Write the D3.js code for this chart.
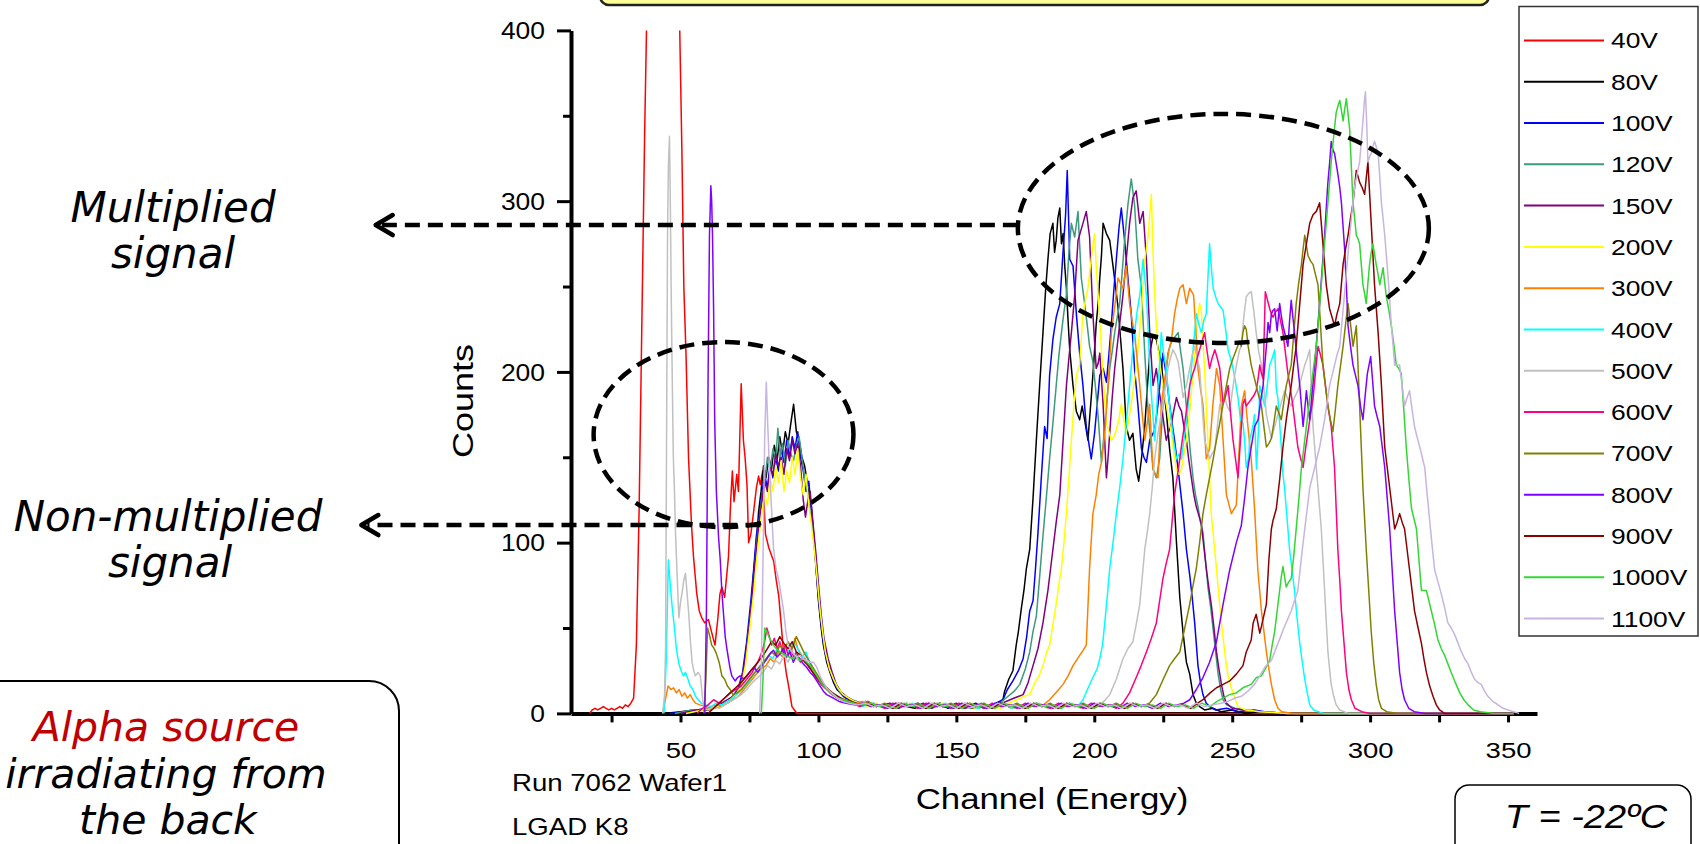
<!DOCTYPE html>
<html><head><meta charset="utf-8">
<script src="https://cdn.jsdelivr.net/npm/d3@7"></script>
<style>body{margin:0;background:#fff;overflow:hidden}svg{display:block}</style>
</head><body>
<svg id="c" width="1700" height="844"></svg>
<script>
// ---------------- DATA (channel, counts) ----------------
const s40V = [[17,0],[18,2],[19,3],[20,2],[21,3],[22,4],[23,3],[24,2],[25,3],[26,2],[27,3],[28,4],[29,3],[30,5],[31,4],[32,6],[33,9],[34,40],[35,120],[36,230],[37,340],[38,430],[40,480],[44,500],[48,470],[49.5,420],[50.5,330],[51.2,250],[52,210],[52.9,150],[54,110],[54.7,92],[55.9,70],[56.8,60],[57.7,56],[58.8,53],[60.1,55],[61.2,48],[62.5,40],[63.5,55],[64.3,70],[65,74],[66,68],[67.4,92],[68.2,125],[68.8,142],[69.4,124],[70.4,140],[71,130],[72,193],[72.8,160],[73.4,150],[74.1,134],[74.7,100],[75.5,105],[76.5,118],[77.5,132],[78.3,139],[78.9,134],[79.8,142],[80.8,105],[82,97],[83.8,89],[84.7,78],[85.6,69],[86.5,52],[87.4,35],[88.3,24],[89.2,16],[90.4,4],[91.3,2],[92.2,0],[150,0],[250,0],[352,0]];
const s80V = [[44,0],[50,1],[55,2],[60,2],[64,4],[67,6],[69,9],[71,14],[72.5,20],[74,40],[75.5,60],[76.5,82],[77.5,100],[78.3,118],[79.2,130],[80.1,145],[81,138],[82,150],[83,143],[84,157],[85,148],[86,162],[87,152],[88,165],[89,158],[90,170],[91,181],[92,165],[93,160],[94,150],[95,145],[95.6,139],[96.5,128],[97.3,124],[98.2,105],[99,88],[100,66],[101,50],[101.8,40],[103,30],[104.2,24],[105.5,18],[106.7,14],[108,12],[110,9],[112,8],[114,6],[116,5],[118,7],[120,4],[123,5],[126,3],[129,6],[132,4],[135,3],[138,5],[141,4],[144,6],[147,3],[150,5],[153,4],[156,3],[159,5],[162,4],[165,6],[166.9,8],[167.5,13],[169,20],[170.5,25],[171.7,40],[172.5,48],[173.6,62],[174.5,72],[175.4,85],[176.6,96],[177.8,126],[179,160],[180.2,192],[181.4,223],[182.4,249],[183.2,266],[184,281],[185,287],[185.6,270],[186.2,277],[186.8,290],[187.5,296],[188.1,275],[188.7,281],[189.3,262],[189.9,249],[190.5,230],[191.1,213],[192.3,192],[193.5,177],[194.7,172],[195.6,180],[196.5,172],[197.7,160],[198.9,185],[199.8,205],[200.7,228],[201.4,240],[202,255],[202.6,268],[203.2,287],[204.4,281],[205.6,277],[206.8,262],[207.7,250],[208.6,238],[209.5,220],[210.4,202],[211.6,168],[212.8,160],[214,164],[215.2,143],[216.1,136],[217.1,149],[218.3,168],[219.2,190],[220.1,211],[221.3,221],[222.5,219],[223.4,212],[224.3,206],[225.2,190],[226.1,177],[227.3,155],[228.5,138],[229.8,100],[231,68],[232.2,47],[233.4,30],[234.6,23],[235.8,11],[237,6],[238.2,4],[240,2],[243,3],[246,1],[250,2],[255,0],[260,1],[270,0],[352,0]];
const s100V = [[46,0],[52,1],[56,2],[60,3],[64,5],[67,7],[69,10],[71,15],[72.5,24],[74,42],[75.5,66],[76.5,84],[77.5,104],[78.5,115],[79.5,128],[80.5,140],[81.5,132],[82.5,146],[83.5,138],[84.5,150],[85.5,142],[86.5,155],[87.5,147],[88.5,160],[89.5,150],[90.5,162],[91.5,155],[92.5,165],[93.5,150],[94.5,142],[95.5,130],[96.5,136],[97.5,118],[98.5,100],[99.5,78],[100.5,60],[101.5,45],[102.5,35],[104,26],[105.5,19],[107,14],[109,10],[111,8],[113,7],[115,5],[118,6],[121,4],[124,5],[127,3],[130,5],[133,4],[136,6],[139,3],[142,5],[145,4],[148,3],[151,5],[154,4],[157,6],[160,3],[163,5],[166.9,8],[168.5,14],[170.5,19],[172.5,25],[174.2,32],[175.5,45],[176.6,60],[177.8,66],[178.7,85],[179.6,106],[180.8,138],[182,168],[182.9,161],[183.8,198],[185,219],[186.2,232],[187.5,240],[188.5,266],[189.6,292],[190.2,318],[191.1,266],[192.3,262],[193.5,234],[194.7,211],[195.9,192],[197.1,168],[198.9,149],[200.1,164],[201,180],[202,198],[203.2,202],[204.4,194],[205.3,210],[206.2,228],[207.1,248],[208,266],[209,285],[209.8,296],[211,277],[212.2,255],[213.4,234],[214.6,202],[215.8,181],[217.1,155],[218,150],[218.9,147],[220.1,160],[221.9,166],[223.1,181],[224,196],[224.9,211],[226.1,198],[227.3,181],[228.2,170],[229.1,160],[230.4,143],[231.3,130],[232.2,117],[233.4,96],[234.6,81],[235.5,68],[236.4,53],[237.6,28],[238.5,18],[239.4,11],[240.6,6],[241.8,4],[244,2],[248,3],[252,1],[258,2],[265,0],[352,0]];
const s120V = [[48,0],[54,2],[58,2],[62,4],[65,6],[68,8],[70,12],[72,18],[73.5,30],[75,52],[76.5,75],[77.5,98],[78.5,112],[79.5,126],[80.5,135],[81.5,150],[82.5,142],[83.5,155],[84.5,148],[85.3,167],[86.2,150],[87,158],[88,145],[89,160],[90,152],[91,148],[92,157],[93,162],[94,150],[95,138],[96,130],[97,118],[98,110],[99,92],[100,72],[101,55],[102,42],[103.5,30],[105,22],[106.5,16],[108,12],[110,10],[112,8],[114,7],[117,5],[120,6],[123,4],[126,5],[129,3],[132,6],[135,4],[138,5],[141,3],[144,6],[147,4],[150,5],[153,3],[156,4],[159,6],[162,4],[165,5],[168,9],[171,13],[173,17],[175,26],[176.6,36],[177.8,48],[179,57],[180.2,80],[181.4,104],[182.6,126],[183.8,149],[185,170],[186.2,192],[187.2,210],[188.1,223],[189,235],[189.9,245],[190.8,270],[191.7,287],[192.9,279],[194.1,294],[195.3,255],[196.5,240],[197.4,228],[198.3,215],[199.5,206],[200.5,190],[201.4,174],[202.6,147],[203.8,168],[204.7,185],[205.6,202],[206.5,212],[207.4,223],[208.3,232],[209.2,240],[210.1,258],[211,277],[212.2,298],[213.4,313],[214.6,298],[215.8,266],[217.1,249],[218.3,211],[219.5,177],[220.4,160],[221.3,143],[222.5,138],[223.7,149],[224.9,181],[225.8,196],[226.7,211],[227.6,216],[228.5,219],[229.5,221],[230.4,223],[231.3,212],[232.2,202],[233.1,185],[234,168],[234.9,152],[235.8,138],[236.7,128],[237.6,121],[238.5,112],[239.4,106],[240.3,90],[241.2,74],[242.2,62],[243.1,49],[244,36],[244.9,23],[245.8,14],[246.7,8],[248,5],[251,3],[255,2],[260,1],[270,0],[352,0]];
const s150V = [[50,0],[56,2],[60,3],[63,4],[66,7],[69,10],[71,14],[72.5,22],[74,38],[75.5,60],[76.5,80],[77.5,96],[78.5,112],[79.5,124],[80.5,136],[81.5,130],[82.5,144],[83.5,140],[84.5,152],[85.5,145],[86.5,150],[87.5,140],[88.5,155],[89.5,148],[90.5,160],[91.5,152],[92.5,158],[93.5,145],[94.5,125],[95.3,115],[96.2,125],[97,130],[98,112],[99,95],[100,76],[101,58],[102,44],[103.5,32],[105,24],[106.5,17],[108,13],[110,10],[112,8],[114,6],[117,7],[120,4],[123,5],[126,6],[129,3],[132,5],[135,4],[138,6],[141,3],[144,5],[147,4],[150,6],[153,3],[156,5],[159,4],[162,3],[165,5],[168,7],[171,9],[174.2,11],[176,18],[177.8,28],[179.6,38],[181.4,53],[183.2,72],[185,96],[186.2,112],[187.5,128],[188.7,160],[189.9,192],[190.8,208],[191.7,223],[192.9,245],[194.1,277],[195,282],[195.9,287],[197.1,294],[198.3,279],[199.5,234],[200.7,202],[201.4,205],[202,211],[203.2,181],[204.4,138],[205,150],[205.6,164],[206.5,185],[207.4,202],[208.3,215],[209.2,228],[210.4,245],[211.6,266],[212.8,287],[214,302],[215.2,306],[216.5,287],[217.7,294],[218.9,266],[220.1,223],[221.3,192],[222.5,202],[223.4,190],[224.3,181],[225.2,170],[226.1,160],[227,165],[228,170],[228.9,178],[229.8,185],[230.7,180],[231.6,177],[232.5,168],[233.4,160],[234.3,148],[235.2,138],[236.1,128],[237,121],[238.8,111],[239.7,98],[240.6,85],[241.5,74],[242.4,64],[243.4,50],[244.3,36],[245.2,26],[246.1,17],[247,10],[247.9,6],[250,3],[254,2],[260,1],[270,0],[352,0]];
const s200V = [[52,0],[58,2],[62,3],[65,5],[68,8],[70,11],[72,16],[73.5,28],[75,48],[76.5,70],[77.5,88],[78.5,104],[79.5,118],[80.5,128],[81.5,122],[82.5,138],[83.5,130],[84.5,145],[85.5,135],[86.5,148],[87.5,130],[88.5,142],[89.5,135],[90.5,150],[91.5,140],[92.5,155],[93.5,138],[94.5,128],[95.5,140],[96.5,122],[97.5,110],[98.5,96],[99.5,80],[100.5,62],[101.5,48],[102.5,36],[104,26],[105.5,20],[107,15],[109,11],[111,9],[113,7],[115,6],[118,4],[121,6],[124,3],[127,5],[130,4],[133,6],[136,3],[139,5],[142,4],[145,6],[148,3],[151,5],[154,4],[157,3],[160,5],[163,4],[166,3],[169,6],[172,8],[174.5,10],[176.6,11],[178.5,18],[180,22],[181.4,28],[182.6,35],[183.8,40],[185,52],[186.2,64],[187.2,76],[188.1,85],[189,100],[189.9,117],[190.8,138],[191.7,160],[192.6,180],[193.5,198],[194.7,204],[195.3,220],[195.9,234],[196.8,242],[197.7,249],[198.3,258],[198.9,266],[199.5,274],[200.1,281],[200.7,262],[201.4,245],[202,230],[202.6,213],[203.5,190],[204.4,170],[205.3,165],[206.2,160],[207.1,162],[208,166],[208.9,172],[209.8,181],[210.7,172],[211.6,164],[212.5,172],[213.4,181],[214.3,192],[215.2,202],[216.1,218],[217.1,236],[217.7,250],[218.3,266],[218.9,272],[219.5,279],[220.1,292],[220.7,304],[221.3,270],[221.9,245],[222.5,228],[223.1,213],[224,202],[224.9,192],[226.1,181],[227,172],[228,164],[228.9,152],[229.8,143],[230.7,140],[231.6,143],[232.5,152],[233.4,160],[234.6,177],[235.3,190],[236,202],[236.8,218],[237.6,234],[238.2,240],[238.8,236],[239.4,218],[240,202],[240.6,180],[241.2,160],[241.8,138],[242.4,117],[243.4,100],[244.3,85],[245.2,68],[246.1,53],[247,40],[247.9,28],[248.8,20],[249.7,15],[250.9,9],[252.1,4],[255,2],[260,1],[270,0],[352,0]];
const s300V = [[43.5,0],[44.5,8],[45.5,16],[46.5,14],[47.5,15],[48.5,12],[49.5,14],[50.5,10],[51.5,12],[52.5,9],[53.5,11],[54.5,8],[55.5,6],[57,5],[59,4],[61,3],[63,5],[65,4],[67,6],[69,8],[71,10],[73,14],[75,18],[77,22],[79,26],[81,28],[82.5,32],[84,30],[85.5,36],[87,33],[88.5,38],[90,35],[91.5,44],[92.5,38],[94,34],[95.5,30],[97,27],[98.5,24],[100,20],[102,16],[104,13],[106,11],[108,9],[110,8],[113,6],[116,7],[119,4],[122,5],[125,3],[128,6],[131,4],[134,5],[137,3],[140,6],[143,4],[146,5],[149,3],[152,4],[155,6],[158,3],[161,5],[164,4],[167,6],[170,3],[173,5],[176,4],[179,6],[181.5,5],[183.8,8],[186,12],[188.7,17],[190.5,22],[192.3,28],[194.7,34],[196,37],[197.1,40],[198.3,85],[199.5,117],[200.7,128],[201.6,140],[202.6,147],[203.8,164],[205,192],[206.2,223],[207.4,238],[208.6,255],[209.5,252],[210.4,249],[211.6,262],[212.8,240],[213.7,230],[214.6,223],[215.5,208],[216.5,192],[217.4,175],[218.3,160],[219.2,170],[220.1,181],[220.7,160],[221.3,143],[222.2,140],[223.1,138],[224.3,181],[225.2,192],[226.1,202],[227,212],[228,219],[229.1,234],[230,242],[231,249],[232.2,251],[233.4,240],[234.6,249],[236,245],[236.8,225],[237.6,202],[238.5,190],[239.4,181],[240,165],[240.6,149],[241.8,155],[242.4,168],[243,181],[243.7,192],[244.3,202],[245.5,192],[246.1,176],[246.7,160],[247.9,128],[249.7,117],[251.5,122],[253.3,180],[254.5,189],[255.7,168],[256.9,149],[258.1,120],[259.3,84],[260.6,60],[261.5,48],[262.4,36],[263.3,26],[264.2,17],[265.4,8],[266.6,3],[268,1],[272,0],[352,0]];
const s400V = [[44,0],[44.8,30],[45.6,90],[46.3,75],[47,62],[47.8,50],[48.5,38],[49.3,30],[50,26],[51,22],[51.8,24],[52.7,20],[53.5,16],[54.5,14],[55.4,10],[56.5,8],[57.5,6],[59,5],[61,4],[63,6],[65,5],[67,7],[69,9],[71,12],[73,15],[75,19],[77,24],[79,28],[80.5,30],[82,34],[83.5,32],[85,38],[86.5,35],[88,40],[89.5,36],[91,42],[92.5,38],[94,33],[95.5,36],[97,29],[98.5,25],[100,20],[102,17],[104,13],[106,11],[108,9],[110,7],[113,6],[116,4],[119,6],[122,5],[125,3],[128,5],[131,4],[134,6],[137,3],[140,5],[143,4],[146,6],[149,3],[152,5],[155,4],[158,3],[161,5],[164,4],[167,6],[170,3],[173,5],[176,4],[179,6],[182,4],[185,5],[188,3],[191,6],[194,4],[195.9,8],[197.5,14],[199.5,21],[201,26],[202,32],[203,40],[203.8,53],[204.8,70],[205.6,85],[206.8,100],[208,117],[209.2,132],[210.4,149],[211.6,170],[212.8,192],[213.7,208],[214.6,223],[215.5,235],[216.5,245],[217.1,255],[217.7,266],[218.3,255],[218.9,245],[219.5,225],[220.1,202],[221,180],[221.9,160],[222.5,175],[223.1,192],[223.7,205],[224.3,223],[225.2,210],[226.1,202],[227,185],[228,170],[228.9,158],[229.8,149],[230.7,152],[231.6,149],[232.5,160],[233.4,170],[234.3,185],[235.2,202],[236.1,218],[237,234],[237.9,228],[238.8,223],[239.7,230],[240.6,234],[241.2,255],[241.8,275],[242.4,262],[243.1,249],[244,244],[244.9,240],[245.8,238],[246.7,236],[247.6,225],[248.5,213],[249.4,208],[250.3,202],[251.2,194],[252.1,185],[253,172],[253.9,170],[254.5,160],[255.1,144],[256,150],[256.3,160],[257.5,168],[258.1,175],[258.8,143],[259.5,165],[260,192],[260.9,186],[261.8,180],[262.7,192],[263.6,204],[264.5,208],[265.4,213],[266,190],[266.6,184],[267.2,170],[267.8,156],[268.4,140],[269,132],[270.2,108],[270.8,96],[271.7,84],[272.6,72],[273.5,56],[274.5,41],[275.4,30],[276.3,20],[277.2,12],[278.1,5],[279.5,2],[283,0],[352,0]];
const s500V = [[43.5,0],[44.2,10],[44.6,40],[45,180],[45.3,280],[45.6,320],[46,338],[46.3,301],[46.6,250],[47,197],[47.4,150],[47.8,131],[48.2,105],[48.8,80],[49.4,56],[50,65],[50.6,71],[51.2,78],[51.8,82],[52.4,70],[53,58],[53.6,42],[54.2,30],[54.8,25],[55.4,22],[56.3,24],[57.2,22],[57.8,12],[58.4,3],[60,2],[62,4],[64,3],[66,5],[68,7],[70,9],[72,11],[74,14],[76,18],[78,21],[80,24],[81.5,28],[83,26],[84.5,31],[86,29],[87.5,34],[89,30],[90.5,36],[92,32],[93.5,30],[95,33],[96.5,28],[98,24],[99.5,20],[101,17],[103,14],[105,11],[107,9],[109,8],[111,6],[114,5],[117,7],[120,4],[123,5],[126,3],[129,6],[132,4],[135,5],[138,3],[141,6],[144,4],[147,5],[150,3],[153,6],[156,4],[159,5],[162,3],[165,4],[168,6],[171,3],[174,5],[177,4],[180,6],[183,3],[186,5],[189,4],[192,6],[195,3],[198,5],[201,4],[203.5,7],[205.6,11],[208,20],[210.4,32],[212.2,38],[214,42],[215.2,52],[216.5,64],[217.4,80],[218.3,96],[219.2,106],[220.1,117],[221,132],[221.9,149],[223.1,164],[224.9,181],[225.8,192],[226.7,202],[227.6,208],[228.5,213],[229.5,210],[230.4,206],[231.3,196],[232.2,185],[233.4,192],[234.6,202],[235.5,210],[236.4,215],[237.3,208],[238.2,202],[239.1,180],[240,160],[240.9,155],[241.8,149],[242.7,152],[243.7,155],[244.6,168],[245.5,181],[246.4,183],[247.3,185],[248.2,180],[249.1,177],[250,188],[250.9,198],[251.8,206],[252.7,213],[253.3,215],[254.2,232],[255.1,244],[256,246],[256.9,247],[257.8,236],[258.7,223],[259.6,212],[260.6,204],[261.5,190],[262.4,175],[263.3,168],[264.2,161],[265.4,168],[266.6,175],[267.8,182],[269,189],[270.2,184],[271.4,180],[272.6,185],[273.8,189],[275,196],[276.3,204],[277.2,208],[278.1,213],[278.7,190],[279.3,168],[279.9,156],[280.5,144],[281.4,126],[282.3,108],[282.9,90],[283.5,72],[284.1,54],[284.7,36],[285.3,26],[285.9,17],[286.8,10],[287.7,5],[289,2],[292,0],[352,0]];
const s600V = [[56,0],[58,3],[60,5],[62,8],[64,6],[66,9],[68,12],[70,14],[72,16],[74,20],[76,24],[78,30],[79.5,36],[80.5,42],[81.3,50],[82.2,45],[83,40],[84,44],[85,38],[86,42],[87,36],[88,40],[89,34],[90,38],[91,33],[92,36],[93.5,30],[95,32],[96.5,27],[98,24],[99.5,20],[101,17],[103,14],[105,11],[107,9],[109,7],[112,6],[115,4],[118,6],[121,5],[124,3],[127,6],[130,4],[133,5],[136,3],[139,6],[142,4],[145,5],[148,3],[151,6],[154,4],[157,5],[160,3],[163,6],[166,4],[169,5],[172,3],[175,6],[178,4],[181,5],[184,3],[187,6],[190,4],[193,5],[196,3],[199,6],[202,4],[205,5],[208,3],[210.4,6],[212.8,12],[215.2,21],[217,28],[218.9,36],[220.7,44],[222.5,53],[223.7,66],[224.9,79],[226.1,88],[227.3,96],[228.2,112],[229.1,128],[230,138],[231,149],[231.9,160],[232.8,170],[233.7,181],[234.6,192],[235.5,198],[236.4,202],[237.3,208],[238.2,213],[239.1,218],[240,223],[240.9,212],[241.8,202],[242.7,208],[243.7,213],[244.6,208],[245.5,202],[246.1,192],[246.7,181],[247.6,186],[248.5,192],[249.4,176],[250.3,160],[251.2,149],[252.1,138],[253,160],[253.9,181],[254.5,184],[255.1,180],[256,182],[256.9,184],[257.8,186],[258.7,189],[259.4,196],[260,204],[260.6,199],[261.2,196],[262,247],[262.8,242],[263.6,237],[264.2,234],[264.8,232],[265.7,235],[266.6,237],[267.5,230],[268.4,223],[269.3,211],[270.2,199],[271.1,190],[272,180],[272.9,168],[273.8,156],[274.7,150],[275.7,144],[276.6,155],[277.5,165],[278.4,175],[279.3,184],[280.2,200],[281.1,215],[282,210],[282.9,204],[283.8,192],[284.7,180],[285.3,174],[285.9,168],[286.5,156],[287.1,144],[287.7,120],[288.3,96],[289,78],[289.6,60],[290.5,42],[291.4,24],[292.3,14],[293.2,8],[294.5,3],[297,1],[300,0],[352,0]];
const s700V = [[58.5,0],[59.2,20],[59.8,50],[60.5,46],[61.3,40],[62.2,38],[63,35],[64,30],[65,22],[66,20],[67,16],[68,14],[69,11],[70.5,12],[72,14],[74,18],[76,22],[78,26],[80,30],[81.5,33],[83,36],[84.5,34],[86,40],[87.5,37],[89,42],[90.5,38],[92,45],[93.5,40],[95,35],[96.5,31],[98,27],[99.5,23],[101,19],[103,15],[105,12],[107,10],[109,8],[112,6],[115,5],[118,7],[121,4],[124,6],[127,3],[130,5],[133,4],[136,6],[139,3],[142,5],[145,4],[148,6],[151,3],[154,5],[157,4],[160,6],[163,3],[166,5],[169,4],[172,6],[175,3],[178,5],[181,4],[184,6],[187,3],[190,5],[193,4],[196,6],[199,3],[202,5],[205,4],[208,6],[211,3],[214,5],[217,4],[220,6],[222.5,11],[225,20],[227.3,28],[229.1,32],[231,36],[232.8,50],[234.6,64],[235.8,75],[237,85],[238.2,100],[239.4,117],[240.6,128],[241.8,138],[243,148],[244.3,160],[245.5,170],[246.7,181],[247.9,192],[249.1,202],[250.3,208],[251.5,213],[252.7,218],[253.3,215],[253.9,223],[254.5,227],[255.1,225],[255.7,216],[256.9,204],[257.8,198],[258.7,192],[259.6,186],[260.6,180],[261.5,168],[262.4,156],[263.3,158],[264.2,161],[265.1,170],[266,180],[266.9,176],[267.8,172],[268.7,182],[269.6,192],[270.5,198],[271.4,204],[272.3,222],[273.2,240],[274.1,252],[275.1,263],[275.7,272],[276.3,280],[276.9,274],[277.5,268],[278.4,265],[279.3,263],[280.2,257],[281.1,251],[282,228],[282.9,204],[283.8,192],[284.7,180],[285.6,172],[286.5,165],[287.4,178],[288.3,192],[289.3,204],[290.2,215],[291.1,228],[292,240],[292.9,228],[293.8,215],[294.4,221],[295,227],[295.6,204],[296.2,180],[296.8,156],[297.4,132],[298,114],[298.6,96],[299.5,72],[300.4,48],[301.3,30],[302.2,17],[303.1,8],[304.1,3],[306,1],[310,0],[352,0]];
const s800V = [[58.8,0],[59.4,60],[60,197],[60.5,280],[61,309],[61.3,300],[61.6,280],[62,236],[62.4,171],[63,130],[63.8,103],[64.4,90],[65,71],[65.6,58],[66.2,45],[66.8,38],[67.4,32],[68,26],[68.6,22],[69.8,19],[70.7,21],[71.6,22],[72.8,20],[74.1,22],[75.5,25],[76.7,27],[78,24],[78.9,26],[80,29],[81.3,32],[82.5,35],[83.7,37],[85,33],[86.1,35],[87.3,38],[88.5,33],[89.7,36],[90.9,30],[92.1,34],[93.3,32],[94.5,29],[95.7,27],[97,24],[98.2,22],[99.4,19],[100.6,16],[101.8,13],[103,11],[104.2,10],[105.4,9],[107.5,7],[110,6],[113,5],[116,6],[119,4],[122,5],[125,3],[128,6],[131,4],[134,5],[137,3],[140,6],[143,4],[146,5],[149,3],[152,6],[155,4],[158,5],[161,3],[164,6],[167,4],[170,5],[173,3],[176,6],[179,4],[182,5],[185,3],[188,6],[191,4],[194,5],[197,3],[200,6],[203,4],[206,5],[209,3],[212,6],[215,4],[218,5],[221,3],[224,6],[227,4],[230,5],[232.5,6],[234.6,8],[237,14],[239.4,21],[241.8,30],[244.3,42],[246.7,64],[249.1,84],[251.5,100],[253.3,110],[254.5,126],[255.7,144],[256.9,156],[258.1,168],[259.4,172],[260.6,186],[261.2,192],[261.8,204],[262.4,215],[263,229],[263.6,223],[264.2,234],[264.8,236],[265.4,237],[266.3,224],[267.2,240],[267.8,233],[268.4,227],[269.3,221],[270.2,215],[270.8,230],[271.4,242],[272,232],[272.6,223],[273.5,208],[274.5,192],[275.1,180],[275.7,168],[276.3,178],[276.9,189],[277.5,180],[278.1,172],[279,188],[279.9,204],[280.8,222],[281.7,240],[282.6,260],[283.5,280],[284.1,296],[284.7,311],[285.3,322],[285.9,335],[286.5,330],[287.1,328],[287.7,322],[288.3,316],[289,308],[289.6,299],[290.2,285],[290.8,271],[291.4,250],[292,227],[292.9,215],[293.8,204],[294.7,198],[295.6,192],[296.5,180],[297.4,172],[298.2,186],[299,199],[299.6,204],[300.2,209],[300.9,195],[301.6,180],[302.5,174],[303.5,168],[304.4,156],[305.3,144],[306.2,126],[307.1,108],[308,84],[308.9,60],[309.8,42],[310.7,24],[311.6,14],[312.5,8],[314,3],[316,1],[320,0],[352,0]];
const s900V = [[60,0],[62,3],[64,6],[66,9],[68,12],[70,15],[72,18],[74,22],[76,26],[78,30],[80,34],[81.5,38],[83,42],[84.5,40],[86,45],[87.5,41],[89,38],[90.5,42],[92,36],[93.5,34],[95,30],[96.5,28],[98,24],[99.5,21],[101,18],[103,15],[105,12],[107,10],[109,8],[112,7],[115,5],[118,6],[121,4],[124,5],[127,3],[130,6],[133,4],[136,5],[139,3],[142,6],[145,4],[148,5],[151,3],[154,6],[157,4],[160,5],[163,3],[166,6],[169,4],[172,5],[175,3],[178,6],[181,4],[184,5],[187,3],[190,6],[193,4],[196,5],[199,3],[202,6],[205,4],[208,5],[211,3],[214,6],[217,4],[220,5],[223,3],[226,6],[229,4],[232,5],[235,3],[237.5,6],[239.4,8],[242,12],[244.3,15],[246.7,17],[249.1,19],[251.5,23],[253.9,28],[255.1,36],[256.9,43],[257.6,53],[258.7,58],[260,47],[260.6,51],[262.4,64],[263.3,90],[264.2,108],[264.8,113],[266,120],[267.2,137],[268.4,156],[269.6,172],[270.5,182],[271.4,192],[272.3,204],[273.2,215],[274.5,240],[275.7,263],[276.9,275],[278.1,287],[279.3,292],[280.5,294],[281.7,299],[282.9,275],[284.1,251],[285.3,237],[286.2,232],[287.1,227],[288,234],[289,240],[290.2,263],[291.1,272],[292,280],[292.9,290],[293.8,299],[295,318],[296.2,311],[297.1,308],[298,304],[299.2,323],[300.4,287],[301.6,251],[302.9,223],[304.1,192],[305.3,156],[306.2,144],[307.1,132],[308,120],[308.9,108],[309.8,112],[310.7,117],[311.6,112],[312.5,108],[313.4,96],[314.3,84],[315.2,72],[316.1,60],[317.4,50],[318.6,41],[319.5,32],[320.4,24],[321.6,16],[322.8,10],[324,5],[325.2,2],[327,0],[352,0]];
const s1000V = [[79.3,0],[79.9,20],[80.5,50],[81.3,48],[82,45],[83,42],[83.7,40],[84.7,38],[85.8,36],[87,35],[88.2,34],[89.4,33],[90.9,32],[92,34],[93.3,31],[94.5,32],[95.7,30],[97,28],[98.2,25],[99.4,22],[100.6,19],[102,16],[103,14],[104.2,12],[105.4,11],[107,9],[109,8],[111,7],[113,6],[116,5],[119,6],[122,4],[125,5],[128,3],[131,6],[134,4],[137,5],[140,3],[143,6],[146,4],[149,5],[152,3],[155,6],[158,4],[161,5],[164,3],[167,6],[170,4],[173,5],[176,3],[179,6],[182,4],[185,5],[188,3],[191,6],[194,4],[197,5],[200,3],[203,6],[206,4],[209,5],[212,3],[215,6],[218,4],[221,5],[224,3],[227,6],[230,4],[233,5],[236,3],[239,6],[242,4],[244.5,7],[246.7,9],[249,11],[251.5,12],[253.9,15],[256.9,17],[258.8,21],[260.6,22],[262,26],[263.6,31],[264.5,40],[265.4,48],[266.3,60],[267.2,72],[267.8,80],[268.4,86],[269,80],[269.6,74],[270.5,77],[271.4,79],[272.3,92],[273.2,108],[274.2,126],[275.1,144],[276,156],[276.9,168],[277.8,180],[278.7,192],[279.6,204],[280.5,215],[281.4,233],[282.3,251],[283.2,270],[284.1,287],[285,305],[285.9,323],[286.8,338],[287.7,352],[288.4,356],[289,359],[289.6,353],[290.2,347],[290.8,354],[291.4,360],[292,351],[292.6,342],[293.2,320],[293.8,299],[294.4,290],[295,280],[295.6,278],[296.2,275],[296.8,263],[297.4,251],[298,246],[298.6,240],[299.2,252],[299.8,263],[300.4,270],[301,275],[301.6,269],[302.2,263],[302.9,257],[303.5,251],[304.1,256],[304.7,261],[305.3,252],[305.9,244],[306.8,236],[307.7,227],[308.6,216],[309.5,204],[310.4,202],[311.3,199],[312.2,178],[313.1,156],[314,138],[315,120],[315.9,114],[316.8,108],[317.7,90],[318.6,72],[319.5,72],[320.4,72],[321.3,66],[322.2,60],[323.4,52],[324.6,43],[325.8,38],[327,34],[328.2,29],[329.4,24],[330.9,18],[332.5,12],[334,8],[335.5,5],[337.5,2],[340,1],[345,0],[352,0]];
const s1100V = [[78.7,0],[79.3,30],[80,100],[80.5,160],[81.1,194],[81.6,170],[82.2,145],[83,120],[83.7,97],[84.6,85],[85.5,79],[86.4,70],[87.3,61],[88.2,48],[89,40],[90,37],[90.9,35],[92.1,33],[93.3,34],[94.5,32],[95.7,31],[97,30],[98.2,30],[99.4,27],[100.6,22],[101.8,18],[103,15],[104.2,13],[105.4,11],[107,9],[109,7],[111,6],[114,5],[117,6],[120,4],[123,5],[126,3],[129,6],[132,4],[135,5],[138,3],[141,6],[144,4],[147,5],[150,3],[153,6],[156,4],[159,5],[162,3],[165,6],[168,4],[171,5],[174,3],[177,6],[180,4],[183,5],[186,3],[189,6],[192,4],[195,5],[198,3],[201,6],[204,4],[207,5],[210,3],[213,6],[216,4],[219,5],[222,3],[225,6],[228,4],[231,5],[234,3],[237,6],[240,4],[243,5],[246,6],[248.5,7],[251,9],[253.3,10],[255.7,13],[258.1,17],[260,22],[261.8,27],[264.2,31],[266.6,41],[269,51],[271.4,60],[273.8,72],[275,90],[276.3,108],[277.2,120],[278.1,132],[279,138],[279.9,144],[280.8,150],[281.7,156],[282.6,164],[283.5,172],[284.4,182],[285.3,192],[286.2,198],[287.1,204],[288,210],[289,215],[289.9,231],[290.8,247],[291.7,264],[292.6,280],[293.5,295],[294.4,309],[295.3,316],[296.2,323],[296.8,335],[297.4,347],[297.9,358],[298.3,364],[298.8,344],[299.2,323],[299.8,326],[300.4,328],[301,332],[301.6,335],[302.2,332],[302.9,328],[303.5,314],[304.1,299],[304.7,290],[305.3,280],[305.9,268],[306.5,256],[307.1,242],[307.7,227],[308.3,216],[308.9,204],[309.8,204],[310.7,204],[311.6,192],[312.5,180],[313.4,185],[314.3,189],[315.2,178],[316.1,168],[317,162],[318,156],[318.9,150],[319.8,144],[320.7,128],[321.6,113],[322.5,98],[323.4,84],[324.6,77],[325.8,70],[327,62],[328.2,53],[329.4,50],[330.7,46],[331.9,41],[333.1,36],[334.3,32],[335.5,29],[336.7,24],[337.9,20],[339.1,18],[340.3,17],[341.5,13],[342.7,10],[344.5,7],[346.4,5],[348.2,3],[350,2],[352,1],[354,0]];

const seriesNames  = ["40V","80V","100V","120V","150V","200V","300V","400V","500V","600V","700V","800V","900V","1000V","1100V"];
const seriesValues = [s40V,s80V,s100V,s120V,s150V,s200V,s300V,s400V,s500V,s600V,s700V,s800V,s900V,s1000V,s1100V];
const seriesColors = ["#ff0000","#000000","#0000ff","#3d9a7a","#800080","#ffff00","#ff8000","#00ffff","#c0c0c0","#ff0080","#808000","#8000ff","#8b0000","#33d633","#c8b4e0"];

const xTickValues = [25,50,75,100,125,150,175,200,225,250,275,300,325,350];
const xTickLabels = [50,100,150,200,250,300,350];
const yTickValues = [0,50,100,150,200,250,300,350,400];
const yTickLabels = [0,100,200,300,400];
const xTitle = "Channel (Energy)";
const yTitle = "Counts";
const runInfo = ["Run 7062 Wafer1","LGAD K8"];
const tempLabel = "T = -22ºC";

// annotation geometry, in data units
const ellipses = [{cx:65.6, cy:163.3, rx:47.1, ry:54.2},{cx:246.8, cy:284, rx:74.5, ry:67.1}];
const arrows = [{x0:172.3, x1:-60.5, y:286},{x0:79, x1:-65.7, y:110.3}];

// ---------------- LAYOUT ----------------
const svg = d3.select("#c");
const x = d3.scaleLinear().domain([10.3, 360.5]).range([571, 1537]);
const y = d3.scaleLinear().domain([0, 400]).range([713.4, 30.4]);

const AR = "Liberation Sans, Arial, sans-serif";

function stext(g, px, py, str, size, sx, anchor, extra) {
  const t = g.append("text")
    .attr("transform", `translate(${px},${py}) scale(${sx},1)`)
    .attr("text-anchor", anchor).attr("font-family", AR).attr("font-size", size)
    .attr("fill", "#000").text(str);
  if (extra) extra(t);
  return t;
}

// top yellow box
svg.append("rect").attr("x",600).attr("y",-30).attr("width",889).attr("height",35).attr("rx",9)
  .attr("fill","#ffff99").attr("stroke","#222").attr("stroke-width",2.5);

// axes
const xAxis = d3.axisBottom(x).tickValues(xTickValues).tickSize(9).tickSizeOuter(0).tickPadding(8)
  .tickFormat(d => xTickLabels.includes(d) ? d : "");
const gx = svg.append("g").attr("transform", `translate(0,${y(0)})`).call(xAxis);
gx.select(".domain").attr("stroke","#000").attr("stroke-width",4);
gx.selectAll(".tick line").attr("stroke","#000").attr("stroke-width",3);
gx.selectAll(".tick text").attr("font-family",AR).attr("font-size",22).attr("fill","#000")
  .attr("y",0).attr("dy",0).attr("transform","translate(0,45) scale(1.25,1)");

const yAxis = d3.axisLeft(y).tickValues(yTickValues).tickSize(14).tickSizeOuter(0).tickPadding(8)
  .tickFormat(d => yTickLabels.includes(d) ? d : "");
const gy = svg.append("g").attr("transform", `translate(${x(10.3)},0)`).call(yAxis);
gy.select(".domain").attr("stroke","#000").attr("stroke-width",4);
gy.selectAll(".tick line").attr("stroke","#000").attr("stroke-width",3)
  .attr("x2", d => yTickLabels.includes(d) ? -14 : -8);
gy.selectAll(".tick text").attr("font-family",AR).attr("font-size",23).attr("fill","#000")
  .attr("x",0).attr("dy","0.36em").attr("transform","translate(-26,0) scale(1.15,1)");

// axis titles
stext(svg, 1052, 809, xTitle, 29, 1.2, "middle");
svg.append("text").attr("transform","translate(473,401) rotate(-90) scale(1.2,1)")
  .attr("text-anchor","middle").attr("font-family",AR).attr("font-size",30).text(yTitle);

// data
svg.append("clipPath").attr("id","plotclip").append("rect")
  .attr("x", x(10.3)).attr("y", y(400)).attr("width", x(360.5)-x(10.3)).attr("height", y(0)-y(400)+2);
const line = d3.line().x(d => x(d[0])).y(d => y(d[1]));
const gData = svg.append("g").attr("clip-path","url(#plotclip)");
seriesValues.forEach((s,i) => {
  gData.append("path").attr("d", line(s)).attr("fill","none")
    .attr("stroke", seriesColors[i]).attr("stroke-width",1.5).attr("stroke-linejoin","round");
});

// legend
const lg = svg.append("g");
lg.append("rect").attr("x",1519).attr("y",6.5).attr("width",179).attr("height",629.5)
  .attr("fill","#fff").attr("stroke","#333").attr("stroke-width",1.5);
seriesNames.forEach((n,i) => {
  const ly = 40.4 + i*41.3;
  lg.append("line").attr("x1",1524).attr("x2",1604).attr("y1",ly).attr("y2",ly)
    .attr("stroke",seriesColors[i]).attr("stroke-width",2);
  stext(lg, 1611, ly+8, n, 22, 1.2, "start");
});

// run info
stext(svg, 512, 791, runInfo[0], 23, 1.2, "start");
stext(svg, 512, 835, runInfo[1], 23, 1.2, "start");

// ellipses & arrows
const ann = svg.append("g").attr("fill","none").attr("stroke","#000").attr("stroke-width",4.5)
  .attr("stroke-dasharray","15,8");
ellipses.forEach(e => {
  ann.append("ellipse").attr("cx",x(e.cx)).attr("cy",y(e.cy))
    .attr("rx", x(e.cx+e.rx)-x(e.cx)).attr("ry", y(e.cy)-y(e.cy+e.ry));
});
arrows.forEach(a => {
  ann.append("line").attr("x1",x(a.x0)).attr("x2",x(a.x1)+6).attr("y1",y(a.y)).attr("y2",y(a.y));
  svg.append("path").attr("d",`M${x(a.x1)+17},${y(a.y)-10} L${x(a.x1)},${y(a.y)} L${x(a.x1)+17},${y(a.y)+10}`)
    .attr("fill","none").attr("stroke","#000").attr("stroke-width",4.5).attr("stroke-linecap","round").attr("stroke-linejoin","round");
});

// left annotation texts
const DJ = "DejaVu Sans, Verdana, sans-serif";
function itext(px, py, str, size, color) {
  svg.append("text").attr("x",px).attr("y",py).attr("text-anchor","middle").attr("font-family",DJ)
    .attr("font-style","italic").attr("font-size",size).attr("fill",color||"#000").text(str);
}
itext(173, 222, "Multiplied", 42);
itext(173, 268, "signal", 42);
itext(168, 531, "Non-multiplied", 42);
itext(170, 577, "signal", 42);

// alpha source box
svg.append("rect").attr("x",-30).attr("y",681).attr("width",429).attr("height",220).attr("rx",30)
  .attr("fill","none").attr("stroke","#000").attr("stroke-width",2);
itext(166, 741, "Alpha source", 41, "#c00000");
itext(166, 788, "irradiating from", 41);
itext(168, 834, "the back", 41);

// temperature box
svg.append("rect").attr("x",1455).attr("y",785).attr("width",236).attr("height",100).attr("rx",14)
  .attr("fill","none").attr("stroke","#000").attr("stroke-width",1.5);
stext(svg, 1586, 828, tempLabel, 33, 1.15, "middle", t => t.attr("font-style","italic"));
</script>
</body></html>
